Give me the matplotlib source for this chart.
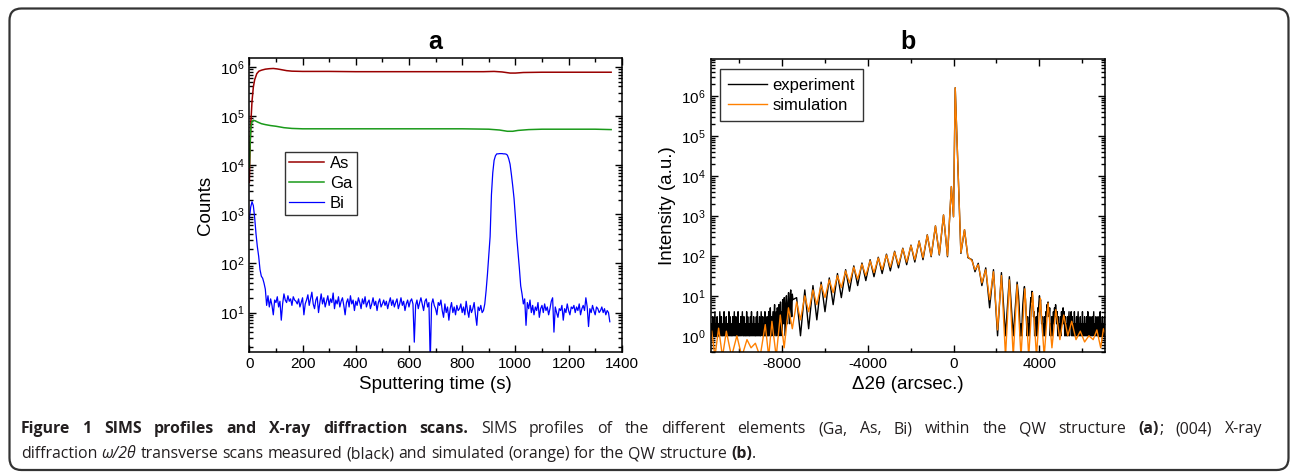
"""SIMS profiles (a) and XRD scans (b) for the QW structure."""

import matplotlib

matplotlib.use("Agg")
import matplotlib.pyplot as plt
import numpy as np
from matplotlib import ticker
from matplotlib.patches import FancyBboxPatch
from matplotlib.transforms import IdentityTransform

plt.rcParams["font.family"] = ["Liberation Sans", "DejaVu Sans"]
plt.rcParams["mathtext.fontset"] = "custom"
plt.rcParams["mathtext.rm"] = "Liberation Sans"
plt.rcParams["mathtext.it"] = "Liberation Sans:italic"
plt.rcParams["axes.unicode_minus"] = False

# ---- panel a: SIMS depth profiles ----
t_as = [0, 3, 6, 10, 15, 20, 28, 36, 46, 60, 75, 90, 105, 120, 140, 160, 200,
        300, 400, 500, 600, 700, 800, 880, 920, 950, 980, 1000, 1030, 1100,
        1200, 1300, 1360]
as_counts = [4.5e3, 2.5e4, 8e4, 2e5, 3.9e5, 5.5e5, 7.3e5, 8.2e5, 8.6e5, 9.0e5,
             9.2e5, 9.3e5, 9.1e5, 8.8e5, 8.4e5, 8.2e5, 8.1e5, 8.1e5, 8.0e5,
             8.0e5, 8.0e5, 8.0e5, 8.0e5, 8.0e5, 8.1e5, 7.9e5, 7.5e5, 7.5e5,
             7.7e5, 7.8e5, 7.8e5, 7.8e5, 7.8e5]

t_ga = [0, 3, 6, 10, 15, 22, 30, 45, 60, 80, 100, 130, 160, 200, 300, 400, 500,
        600, 700, 800, 900, 940, 970, 990, 1010, 1050, 1100, 1200, 1300, 1360]
ga_counts = [9e3, 3e4, 6e4, 7.8e4, 8.2e4, 8.0e4, 7.6e4, 7.0e4, 6.7e4, 6.4e4,
             6.2e4, 5.8e4, 5.6e4, 5.5e4, 5.5e4, 5.5e4, 5.5e4, 5.5e4, 5.5e4,
             5.5e4, 5.4e4, 5.2e4, 4.9e4, 4.9e4, 5.1e4, 5.3e4, 5.4e4, 5.4e4,
             5.4e4, 5.3e4]

# Bi counts, one reading every 5 s from t = 0
bi_counts = [
    800, 1400, 1800, 1500, 850, 400, 220, 140, 75, 55,
    50, 40, 30, 14, 22, 13, 19, 14, 9, 18,
    16, 21, 13, 17, 7, 15, 24, 18, 16, 22,
    17, 19, 14, 21, 18, 17, 15, 19, 13, 16,
    20, 9, 15, 18, 23, 14, 19, 26, 15, 12,
    18, 21, 10, 16, 24, 15, 20, 13, 17, 22,
    14, 19, 16, 25, 12, 18, 15, 21, 13, 17,
    20, 14, 9, 16, 19, 13, 22, 15, 18, 11,
    17, 14, 20, 16, 12, 19, 15, 21, 13, 16,
    18, 12, 15, 20, 14, 17, 11, 16, 19, 13,
    15, 18, 14, 17, 12, 16, 20, 14, 18, 13,
    16, 19, 12, 15, 20, 14, 17, 11, 15, 18,
    13, 17, 19, 15, 2.5, 14, 18, 12, 16, 20,
    15, 11, 17, 19, 13, 16, 1.0, 15, 19, 14,
    12, 9, 16, 14, 18, 11, 8, 15, 10, 13,
    7, 12, 16, 10, 13, 9, 14, 11, 12, 15,
    10, 13, 9, 17, 11, 8, 14, 10, 12, 16,
    9, 5.5, 13, 11, 14, 10,
    11, 15, 28, 60, 140, 350, 2500, 7000, 12500, 15500,
    17000, 17000, 17200, 17200, 17200, 17000, 17000, 16800, 16000, 13500,
    10500, 6500, 3800, 2100, 900, 350, 170, 80, 35,
    24, 15, 19, 5.5, 16, 12, 18, 10, 14, 9,
    13, 11, 16, 8, 12, 14, 10, 15, 11, 13,
    9, 12, 17, 20, 4, 13, 10, 8, 12, 11,
    14, 7, 12, 10, 15, 11, 9, 13, 12, 14,
    10, 13, 11, 15, 9, 12, 14, 11, 20, 13,
    5.2, 12, 10, 14, 11, 9, 13, 12, 10, 11,
    13, 10, 12, 9, 11, 10, 6.5,
]
t_bi = 5 * np.arange(len(bi_counts))

# ---- panel b: XRD omega/2theta scans ----
sim_x = [-11250, -11100, -10930, -10750, -10570, -10330, -10080, -9850, -9610,
         -9420, -9220, -9000, -8760, -8600, -8450, -8250, -8060, -7880, -7680,
         -7500, -7300, -7120, -6920, -6740, -6540, -6360, -6160, -5980, -5780,
         -5600, -5400, -5220, -5020, -4840, -4640, -4460, -4260, -4080, -3880,
         -3700, -3500, -3320, -3120, -2940, -2740, -2560, -2360, -2180, -1980,
         -1800, -1600, -1420, -1220, -1040, -840, -660, -465, -280, -100, 0,
         80, 344, 512, 670, 860, 1000, 1150, 1320, 1500, 1680, 1860, 2050,
         2230, 2420, 2600, 2780, 2960, 3140, 3320, 3500, 3680, 3860, 4040,
         4220, 4400, 4580, 4760, 4950, 5130, 5320, 5500, 5700, 5900, 6100,
         6300, 6500, 6670, 6850, 6977, 7050]
sim_y = [1.3, 0.3, 1.55, 0.3, 1.3, 0.3, 1.0, 0.3, 0.8, 0.5, 0.65, 0.3, 1.9,
         0.3, 2.3, 0.3, 3.3, 0.5, 5.0, 1.5, 7.0, 2.5, 10, 4, 14, 6, 19, 9, 25,
         12, 32, 16, 42, 21, 52, 26, 62, 32, 75, 38, 88, 45, 105, 52, 125, 60,
         150, 70, 180, 80, 230, 90, 330, 100, 560, 110, 1050, 100, 5400, 950,
         1.6e6, 120, 450, 95, 75, 45, 60, 21, 45, 8, 40, 1.4, 32, 0.3, 25, 0.3,
         19, 0.3, 15, 0.3, 12, 0.3, 8.7, 0.3, 6.6, 0.5, 4.5, 0.8, 3.3, 1.0,
         2.3, 0.8, 1.3, 0.7, 1.0, 0.8, 1.4, 0.5, 1.5, 1.2]

# experiment: noisy count floor on the left (every 25 arcsec), fringes in the
# middle, noisy floor again on the right (every 25 arcsec)
exp_left_x = np.arange(-11250, -7450, 25)
exp_left_y = [2, 1, 3, 1, 1, 2, 4, 1, 2, 1, 3, 1, 2, 1, 1, 4, 2, 1, 3, 1,
              1, 2, 1, 4, 1, 2, 1, 3, 1, 1, 2, 1, 4, 1, 3, 1, 2, 1, 1, 3,
              1, 2, 4, 1, 1, 3, 1, 2, 1, 4, 1, 1, 2, 1, 3, 1, 2, 4, 1, 1,
              3, 1, 2, 1, 1, 4, 1, 3, 1, 2, 1, 1, 3, 1, 4, 1, 2, 1, 3, 1,
              2, 1, 1, 3, 1, 4, 1, 2, 1, 3, 1, 1, 4, 2, 1, 3, 1, 2, 1, 4,
              1, 2, 1, 3, 1, 1, 4, 1, 2, 5, 1, 3, 1, 2, 4, 1, 3, 6, 1, 2,
              4, 1, 5, 2, 1, 6, 3, 1, 7, 2, 4, 1, 8, 3, 2, 9, 4, 1, 6, 10,
              3, 2, 7, 12, 4, 2, 9, 14, 5, 3, 11, 8]
exp_mid_x = [-7300, -7120, -6920, -6740, -6540, -6360, -6160, -5980, -5780,
             -5600, -5400, -5220, -5020, -4840, -4640, -4460, -4260, -4080,
             -3880, -3700, -3500, -3320, -3120, -2940, -2740, -2560, -2360,
             -2180, -1980, -1800, -1600, -1420, -1220, -1040, -840, -660,
             -465, -280, -100, 0, 80, 344, 512, 670, 860, 1000, 1150, 1320,
             1500, 1680, 1860, 2050, 2230, 2420, 2600, 2780, 2960]
exp_mid_y = [9, 1, 14, 1.5, 18, 2.5, 22, 4, 28, 6, 36, 9, 45, 13, 56, 18,
             66, 24, 80, 30, 92, 36, 110, 42, 130, 50, 155, 60, 185, 70,
             235, 80, 335, 95, 560, 105, 1050, 95, 5400, 950, 1.6e6, 115,
             450, 90, 80, 40, 65, 18, 50, 5, 45, 1, 38, 1, 30, 1, 22]
exp_right_x = np.arange(3025, 7075, 25)
exp_right_y = [10, 6, 3, 1, 1, 2, 1, 3, 6, 9, 13, 17, 12, 8, 4, 2, 1, 3, 1, 2,
               1, 4, 6, 9, 7, 13, 10, 6, 3, 4, 1, 2, 1, 3, 1, 2, 5, 4, 7, 10,
               6, 8, 4, 2, 3, 1, 2, 1, 3, 1, 2, 4, 3, 6, 5, 7, 4, 3, 5, 1,
               2, 1, 3, 1, 2, 4, 2, 5, 3, 6, 4, 2, 4, 1, 3, 1, 2, 1, 3, 1,
               4, 2, 3, 5, 2, 4, 1, 3, 1, 2, 1, 3, 1, 2, 4, 1, 3, 2, 4, 1,
               3, 1, 2, 1, 4, 1, 2, 1, 3, 1, 2, 4, 1, 2, 1, 3, 1, 2, 1, 4,
               1, 2, 1, 3, 1, 2, 1, 3, 1, 4, 1, 2, 1, 3, 1, 2, 1, 3, 1, 2,
               4, 1, 2, 1, 3, 1, 2, 1, 3, 1, 2, 1, 4, 1, 2, 1, 3, 1, 2, 1,
               3, 1]

exp_x = np.concatenate([exp_left_x, exp_mid_x, exp_right_x])
exp_y = np.concatenate([exp_left_y, exp_mid_y, exp_right_y])

# caption runs: (text, weight, style); words are split on spaces
caption_line1 = [("Figure 1 SIMS profiles and X-ray diffraction scans.", "bold", "normal"),
                 ("SIMS profiles of the different elements (Ga, As, Bi) within the QW structure", "normal", "normal"),
                 ("(a)", "bold", "normal"),
                 ("; (004) X-ray", "normal", "normal")]
caption_line2 = [("diffraction", "normal", "normal"),
                 ("\u03c9/2\u03b8", "normal", "italic"),
                 ("transverse scans measured (black) and simulated (orange) for the QW structure", "normal", "normal"),
                 ("(b)", "bold", "normal"),
                 (".", "normal", "normal")]


def style_axes(ax):
    ax.tick_params(which="both", direction="in", top=True, right=True,
                   labelsize=11, width=1.0)
    ax.tick_params(which="major", length=5)
    ax.tick_params(which="minor", length=3)
    for sp in ax.spines.values():
        sp.set_linewidth(1.1)


fig = plt.figure(figsize=(12.9, 4.73), dpi=100)

ax_a = fig.add_axes([0.1933, 0.2565, 0.2887, 0.6203])
ax_a.plot(t_as, as_counts, color="#990000", lw=1.1, label="As")
ax_a.plot(t_ga, ga_counts, color="#1a9a1a", lw=1.1, label="Ga")
ax_a.plot(t_bi, bi_counts, color="#0000ff", lw=0.9, label="Bi")
ax_a.set_yscale("log")
ax_a.set_xlim(0, 1400)
ax_a.set_ylim(1.6, 1.5e6)
ax_a.xaxis.set_major_locator(ticker.MultipleLocator(200))
ax_a.xaxis.set_minor_locator(ticker.MultipleLocator(100))
ax_a.yaxis.set_major_locator(ticker.LogLocator(base=10, numticks=10))
ax_a.yaxis.set_minor_locator(ticker.LogLocator(base=10, subs=np.arange(2, 10), numticks=20))
ax_a.yaxis.set_minor_formatter(ticker.NullFormatter())
ax_a.set_xlabel("Sputtering time (s)", fontsize=13.5, labelpad=4)
ax_a.set_ylabel("Counts", fontsize=13.5, labelpad=4)
ax_a.set_title("a", fontsize=18, fontweight="bold", pad=7)
style_axes(ax_a)
leg_a = ax_a.legend(loc="upper left", bbox_to_anchor=(0.096, 0.682),
                    borderaxespad=0, fontsize=12, frameon=True, fancybox=False,
                    edgecolor="black", handlelength=2.1, handletextpad=0.35,
                    labelspacing=0.3, borderpad=0.25)
leg_a.get_frame().set_linewidth(1.0)

ax_b = fig.add_axes([0.5509, 0.2565, 0.3057, 0.6188])
ax_b.plot(exp_x, exp_y, color="black", lw=1.0, label="experiment")
ax_b.plot(sim_x, sim_y, color="#ff8000", lw=1.0, label="simulation")
ax_b.set_yscale("log")
ax_b.set_xlim(-11300, 7050)
ax_b.set_ylim(0.4, 8.4e6)
ax_b.xaxis.set_major_locator(ticker.MultipleLocator(4000))
ax_b.xaxis.set_minor_locator(ticker.MultipleLocator(2000))
ax_b.yaxis.set_major_locator(ticker.LogLocator(base=10, numticks=10))
ax_b.yaxis.set_minor_locator(ticker.LogLocator(base=10, subs=np.arange(2, 10), numticks=20))
ax_b.yaxis.set_minor_formatter(ticker.NullFormatter())
ax_b.set_xlabel("\u03942\u03b8 (arcsec.)", fontsize=13.5, labelpad=4)
ax_b.set_ylabel("Intensity (a.u.)", fontsize=13.5, labelpad=4)
ax_b.set_title("b", fontsize=18, fontweight="bold", pad=7)
style_axes(ax_b)
leg_b = ax_b.legend(loc="upper left", bbox_to_anchor=(0.0236, 0.965),
                    borderaxespad=0, fontsize=12, frameon=True, fancybox=False,
                    edgecolor="black", handlelength=2.3, handletextpad=0.35,
                    labelspacing=0.3, borderpad=0.5)
leg_b.get_frame().set_linewidth(1.0)

# rounded frame around the whole figure, in pixels
frame = FancyBboxPatch((9.5, 3), 1279, 461.5, boxstyle="round,pad=0,rounding_size=12",
                       transform=IdentityTransform(), fill=False, lw=1.6,
                       edgecolor="#333333")
fig.patches.append(frame)

# caption: first line justified, second line left aligned
cap_color = "#231f20"
cap_font = ["Open Sans", "DejaVu Sans"]
cap_size = 11.4
renderer = fig.canvas.get_renderer()


def cap_text(x, y, s, weight, style):
    return fig.text(x, y, s, transform=IdentityTransform(), family=cap_font,
                    size=cap_size, weight=weight, style=style, color=cap_color,
                    va="baseline", ha="left")


def to_words(runs):
    # list of words, each a list of runs; a run starting with ";" or "."
    # sticks to the previous word
    words = []
    for s, wt, st in runs:
        for i, w in enumerate(s.split(" ")):
            if not w:
                continue
            if words and i == 0 and w[0] in ";.":
                words[-1].append((w, wt, st))
            else:
                words.append([(w, wt, st)])
    return words


def measure(words, y):
    placed = []
    for runs in words:
        objs = [cap_text(0, y, s, wt, st) for s, wt, st in runs]
        placed.append([(o, o.get_window_extent(renderer).width) for o in objs])
    return placed


probe = cap_text(0, 0, "n n", "normal", "normal")
probe2 = cap_text(0, 0, "nn", "normal", "normal")
space_w = probe.get_window_extent(renderer).width - probe2.get_window_extent(renderer).width
probe.remove()
probe2.remove()

x_left, x_right = 21, 1262
line1 = measure(to_words(caption_line1), 473 - 433)
ink = sum(w for word in line1 for _, w in word)
gap = (x_right - x_left - ink) / (len(line1) - 1)
xpix = x_left
for word in line1:
    for o, w in word:
        o.set_x(xpix)
        xpix += w
    xpix += gap

line2 = measure(to_words(caption_line2), 473 - 458)
xpix = x_left
for word in line2:
    for o, w in word:
        o.set_x(xpix)
        xpix += w
    xpix += space_w

fig.savefig("out.png", dpi=100)
